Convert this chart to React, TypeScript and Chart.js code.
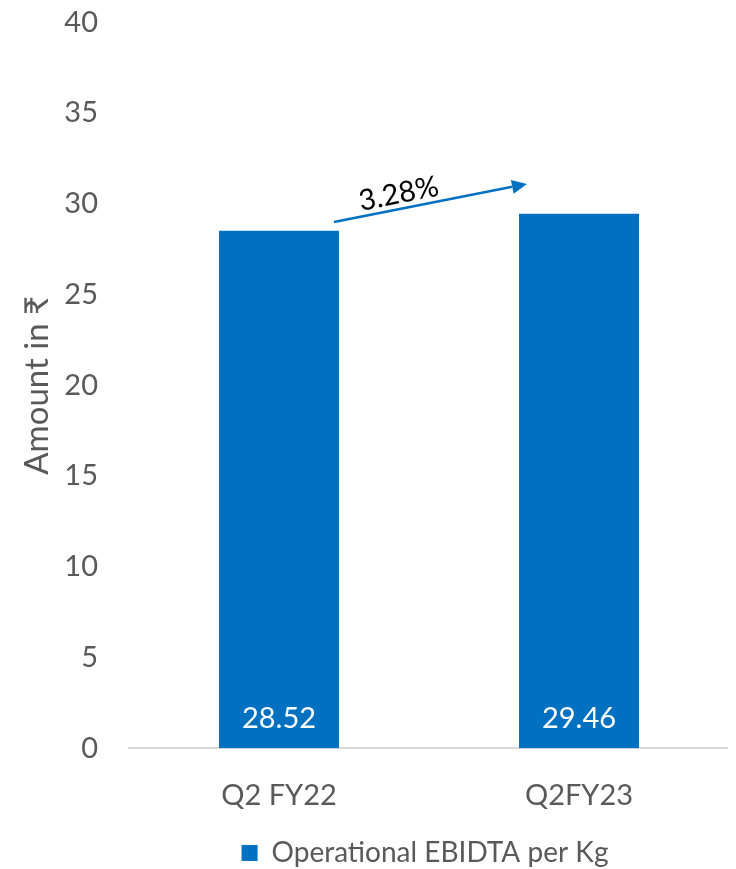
import React, { useEffect, useRef } from "react";
import { Chart, registerables } from "chart.js";

Chart.register(...registerables);

const categories = ["Q2 FY22", "Q2FY23"];
const values = [28.52, 29.46];
const seriesLabel = "Operational EBIDTA per Kg";
const yTicks = [0, 5, 10, 15, 20, 25, 30, 35, 40];
const growthLabel = "3.28%";
const arrowStartValue = 29.0;
const arrowEndValue = 31.1;

const FONT = "Lato, 'Open Sans', 'DejaVu Sans', sans-serif";
const BLUE = "#0070C0";
const GREY = "#595959";

const legendShiftPlugin = {
  id: "legendShift",
  afterLayout(chart: any) {
    const lg = chart.legend;
    const ca = chart.chartArea;
    if (!lg || !ca) return;
    const dx = (ca.left + ca.right) / 2 - (lg.left + lg.right) / 2 - 4;
    lg.left += dx;
    lg.right += dx;
  },
};

const overlayPlugin = {
  id: "overlay",
  afterDatasetsDraw(chart: any) {
    const ctx = chart.ctx;
    const meta = chart.getDatasetMeta(0);
    const y = chart.scales.y;
    // data labels
    ctx.save();
    ctx.fillStyle = "#ffffff";
    ctx.font = `29px ${FONT}`;
    ctx.textAlign = "center";
    ctx.textBaseline = "middle";
    meta.data.forEach((bar: any, i: number) => {
      ctx.fillText(values[i].toFixed(2), bar.x, y.getPixelForValue(0) - 30);
    });
    ctx.restore();

    // arrow
    const b0 = meta.data[0];
    const b1 = meta.data[1];
    const x1 = b0.x + b0.width / 2 - 5;
    const y1 = y.getPixelForValue(arrowStartValue);
    const x2 = b1.x - b1.width / 2 + 8;
    const y2 = y.getPixelForValue(arrowEndValue);
    const ang = Math.atan2(y2 - y1, x2 - x1);
    const head = 15;
    const hw = 7;
    ctx.save();
    ctx.strokeStyle = BLUE;
    ctx.fillStyle = BLUE;
    ctx.lineWidth = 2.5;
    ctx.beginPath();
    ctx.moveTo(x1, y1);
    ctx.lineTo(x2 - head * Math.cos(ang), y2 - head * Math.sin(ang));
    ctx.stroke();
    ctx.beginPath();
    ctx.moveTo(x2, y2);
    ctx.lineTo(
      x2 - head * Math.cos(ang) + hw * Math.sin(ang),
      y2 - head * Math.sin(ang) - hw * Math.cos(ang)
    );
    ctx.lineTo(
      x2 - head * Math.cos(ang) - hw * Math.sin(ang),
      y2 - head * Math.sin(ang) + hw * Math.cos(ang)
    );
    ctx.closePath();
    ctx.fill();
    // text
    const t = 0.35;
    const tx = x1 + (x2 - x1) * t + 15 * Math.sin(ang);
    const ty = y1 + (y2 - y1) * t - 15 * Math.cos(ang);
    ctx.translate(tx, ty);
    ctx.rotate(ang);
    ctx.fillStyle = "#000000";
    ctx.font = `29px ${FONT}`;
    ctx.textAlign = "center";
    ctx.textBaseline = "middle";
    ctx.fillText(growthLabel, 0, 0);
    ctx.restore();
  },
};

export default function App() {
  const ref = useRef<HTMLCanvasElement>(null);
  useEffect(() => {
    if (!ref.current) return;
    const chart = new Chart(ref.current, {
      type: "bar",
      data: {
        labels: categories,
        datasets: [
          {
            label: seriesLabel,
            data: values,
            backgroundColor: BLUE,
            categoryPercentage: 1,
            barPercentage: 0.4,
          },
        ],
      },
      options: {
        animation: false,
        responsive: true,
        maintainAspectRatio: false,
        layout: { padding: { top: 0, right: 7, left: 0, bottom: -8 } },
        plugins: {
          tooltip: { enabled: false },
          legend: {
            position: "bottom",
            labels: {
              color: GREY,
              font: { family: FONT, size: 28 },
              boxWidth: 16,
              boxHeight: 16,
              padding: 4,
            },
          },
        },
        scales: {
          x: {
            grid: { display: false },
            border: { display: true, color: "#D9D9D9", width: 2 },
            ticks: {
              color: GREY,
              font: { family: FONT, size: 29 },
              padding: 22,
            },
          },
          y: {
            min: 0,
            max: 40,
            afterBuildTicks: (axis: any) => {
              axis.ticks = yTicks.map((v) => ({ value: v }));
            },
            afterFit: (axis: any) => {
              axis.width = 121;
            },
            grid: { display: false },
            border: { display: false },
            ticks: {
              color: GREY,
              font: { family: FONT, size: 29 },
              padding: 23,
            },
            title: {
              display: true,
              text: "Amount in ₹",
              color: GREY,
              font: { family: FONT, size: 33 },
              padding: { top: 10, bottom: 0 },
            },
          },
        },
      },
      plugins: [legendShiftPlugin, overlayPlugin],
    });
    return () => chart.destroy();
  }, []);
  return (
    <div style={{ width: 728, height: 887, position: "relative", marginTop: -26 }}>
      <canvas ref={ref} />
    </div>
  );
}
